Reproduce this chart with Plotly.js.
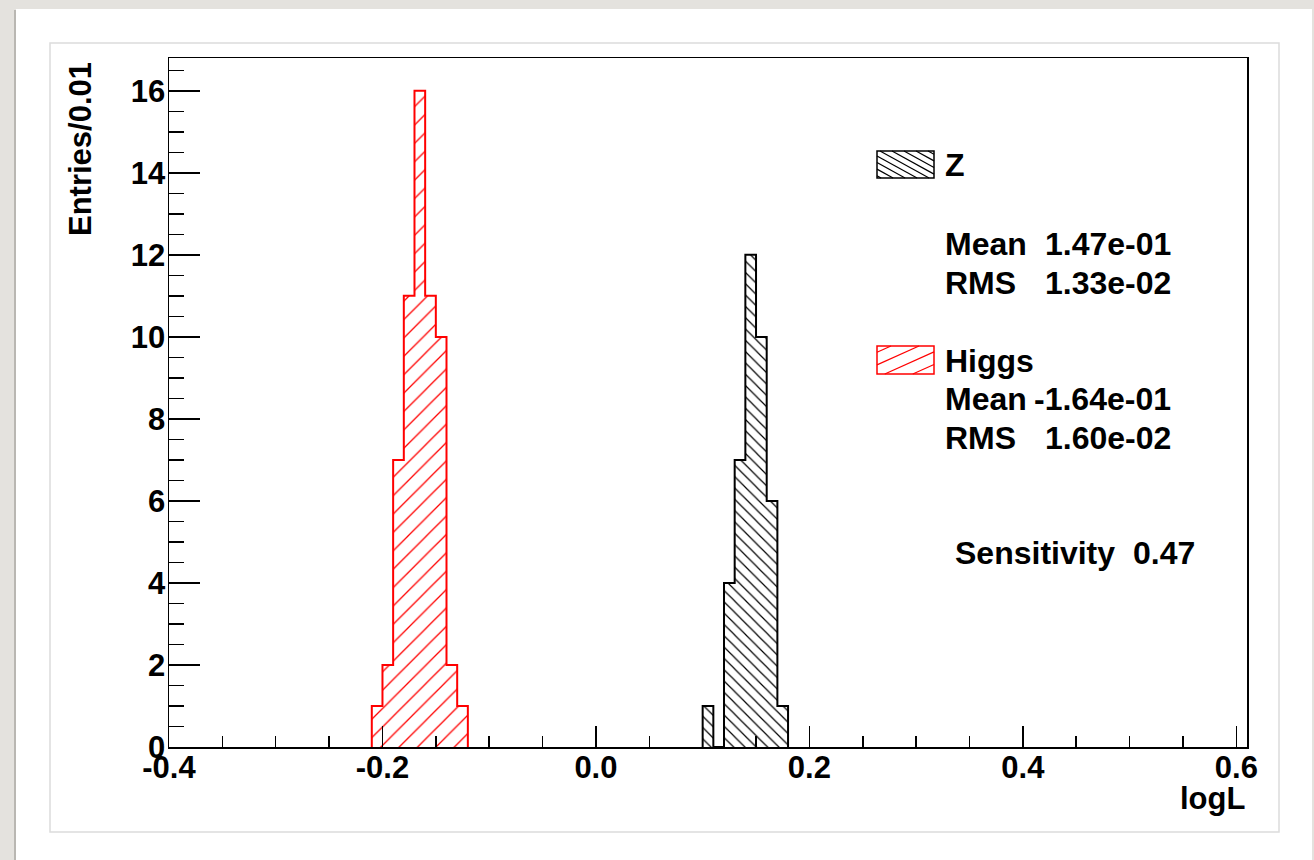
<!DOCTYPE html>
<html>
<head>
<meta charset="utf-8">
<script src="https://cdn.plot.ly/plotly-3.0.1.min.js"></script>
<style>
html, body { margin: 0; padding: 0; background: #e4e2de; }
#chart { width: 1314px; height: 860px; }
</style>
</head>
<body>
<div id="chart"></div>
<script>
// ---------------- data ----------------
const zEdges = [0.10, 0.11, 0.12, 0.13, 0.14, 0.15, 0.16, 0.17, 0.18];
const zCounts = [1, 0, 4, 7, 12, 10, 6, 1];
const higgsEdges = [-0.21, -0.20, -0.19, -0.18, -0.17, -0.16, -0.15, -0.14, -0.13, -0.12];
const higgsCounts = [1, 2, 7, 11, 16, 11, 10, 2, 1];
const seriesNames = ['Z', 'Higgs'];
const statLabels = ['Mean', 'RMS'];
const zStats = ['1.47e-01', '1.33e-02'];
const higgsStats = ['-1.64e-01', '1.60e-02'];
const sensitivityLabel = 'Sensitivity';
const sensitivityValue = '0.47';
const xTickVals = [-0.4, -0.2, 0.0, 0.2, 0.4, 0.6];
const xTickText = ['-0.4', '-0.2', '0.0', '0.2', '0.4', '0.6'];
const yTickVals = [0, 2, 4, 6, 8, 10, 12, 14, 16];
const yTickText = ['0', '2', '4', '6', '8', '10', '12', '14', '16'];
const xTitle = 'logL';
const yTitle = 'Entries/0.01';

// ---------------- layout geometry ----------------
const W = 1314, H = 860;
const M = { l: 169, r: 67, t: 58, b: 113 };
const PW = W - M.l - M.r, PH = H - M.t - M.b;
const px2x = p => (p - M.l) / PW;
const py2y = p => (H - M.b - p) / PH;

const FONT = 'Liberation Sans, Arial, Helvetica, sans-serif';

function centers(edges) { return edges.slice(0, -1).map((e, i) => (e + edges[i + 1]) / 2); }
function widths(edges) { return edges.slice(0, -1).map((e, i) => edges[i + 1] - e); }
function stepX(edges) { return [edges[0]].concat(edges); }
function stepY(counts) { return [0].concat(counts).concat([0]); }

function barTrace(edges, counts, name, color, shape, size, solidity) {
  return {
    type: 'bar', name: name, x: centers(edges), y: counts, width: widths(edges),
    marker: {
      color: 'white',
      line: { width: 0 },
      pattern: { shape: shape, fgcolor: color, bgcolor: 'white', fgopacity: 1, size: size, solidity: solidity, fillmode: 'replace' }
    },
    showlegend: false, hoverinfo: 'skip'
  };
}
function outlineTrace(edges, counts, color) {
  return {
    type: 'scatter', mode: 'lines', x: stepX(edges), y: stepY(counts),
    line: { shape: 'hv', color: color, width: 2 },
    showlegend: false, hoverinfo: 'skip', cliponaxis: true
  };
}

const data = [
  barTrace(higgsEdges, higgsCounts, seriesNames[1], '#ff0000', '/', 13, 0.1),
  barTrace(zEdges, zCounts, seriesNames[0], '#000000', '\\', 8, 0.15),
  outlineTrace(higgsEdges, higgsCounts, '#ff0000'),
  outlineTrace(zEdges, zCounts, '#000000')
];

// ---------------- decoration shapes ----------------
const shapes = [];
shapes.push({ type: 'rect', xref: 'paper', yref: 'paper', layer: 'below',
  x0: px2x(16), x1: px2x(1312), y0: py2y(862), y1: py2y(9),
  fillcolor: 'white', line: { width: 0 } });
shapes.push({ type: 'line', xref: 'paper', yref: 'paper', layer: 'below',
  x0: px2x(15), x1: px2x(15), y0: py2y(862), y1: py2y(10),
  line: { color: '#b9b7b2', width: 2 } });
shapes.push({ type: 'rect', xref: 'paper', yref: 'paper', layer: 'below',
  x0: px2x(50), x1: px2x(1279), y0: py2y(832), y1: py2y(43),
  fillcolor: 'white', line: { color: '#dcdcdc', width: 1.5 } });

function hatchBox(x0, y0, x1, y1, color, slope, hspace) {
  shapes.push({ type: 'rect', xref: 'paper', yref: 'paper', layer: 'above',
    x0: px2x(x0), x1: px2x(x1), y0: py2y(y1), y1: py2y(y0),
    fillcolor: 'white', line: { color: color, width: 1.5 } });
  const corners = [[x0, y0], [x1, y0], [x0, y1], [x1, y1]].map(([x, y]) => y - slope * x);
  const cmin = Math.min(...corners), cmax = Math.max(...corners);
  const vstep = hspace * Math.abs(slope);
  for (let c = cmin + vstep / 2; c < cmax; c += vstep) {
    let a = (y0 - c) / slope, b = (y1 - c) / slope;
    let lo = Math.max(x0, Math.min(a, b)), hi = Math.min(x1, Math.max(a, b));
    if (hi - lo < 1) continue;
    shapes.push({ type: 'line', xref: 'paper', yref: 'paper', layer: 'above',
      x0: px2x(lo), x1: px2x(hi), y0: py2y(c + slope * lo), y1: py2y(c + slope * hi),
      line: { color: color, width: 1.2 } });
  }
}
hatchBox(877, 151, 934, 178, '#000000', 0.55, 12);
hatchBox(877, 346, 934, 374, '#ff0000', -0.45, 28);

// ---------------- annotations ----------------
function txt(text, x, y, xanchor, size, extra) {
  return Object.assign({ text: text, xref: 'paper', yref: 'paper', x: px2x(x), y: py2y(y),
    xanchor: xanchor, yanchor: 'middle', showarrow: false,
    font: { family: FONT, size: size, color: 'black', weight: 700 } }, extra || {});
}
const LS = 32;
const annotations = [
  txt(seriesNames[0], 943, 165, 'left', LS),
  txt(statLabels[0], 943, 244, 'left', LS),
  txt(zStats[0], 1173, 244, 'right', LS),
  txt(statLabels[1], 943, 283, 'left', LS),
  txt(zStats[1], 1173, 283, 'right', LS),
  txt(seriesNames[1], 943, 361, 'left', LS),
  txt(statLabels[0], 943, 399, 'left', LS),
  txt(higgsStats[0], 1173, 399, 'right', LS),
  txt(statLabels[1], 943, 438, 'left', LS),
  txt(higgsStats[1], 1173, 438, 'right', LS),
  txt(sensitivityLabel, 953, 553, 'left', LS),
  txt(sensitivityValue, 1197, 553, 'right', LS),
  txt(xTitle, 1247, 779, 'right', 31, { yanchor: 'top' }),
  txt(yTitle, 80, 60, 'center', 31, { textangle: -90, yanchor: 'top' })
];

const axisCommon = {
  showgrid: false, zeroline: false, showline: true, linecolor: 'black', linewidth: 1.5,
  mirror: true, ticks: 'inside', tickcolor: 'black', tickwidth: 1.5,
  layer: 'above traces', tickmode: 'array',
  tickfont: { family: FONT, size: 31, color: 'black', weight: 700 }
};

const layout = {
  width: W, height: H,
  margin: M,
  paper_bgcolor: '#e4e2de',
  plot_bgcolor: 'rgba(0,0,0,0)',
  barmode: 'overlay', bargap: 0,
  showlegend: false,
  xaxis: Object.assign({}, axisCommon, {
    range: [-0.4, 0.61], tickvals: xTickVals, ticktext: xTickText, ticklen: 21,
    ticklabelstandoff: -8,
    minor: { tickmode: 'linear', tick0: -0.4, dtick: 0.05, ticks: 'inside', ticklen: 11, tickwidth: 1.5, tickcolor: 'black', showgrid: false }
  }),
  yaxis: Object.assign({}, axisCommon, {
    range: [0, 16.8], tickvals: yTickVals, ticktext: yTickText, ticklen: 31,
    ticklabelstandoff: -4,
    minor: { tickmode: 'linear', tick0: 0, dtick: 0.5, ticks: 'inside', ticklen: 15, tickwidth: 1.5, tickcolor: 'black', showgrid: false }
  }),
  shapes: shapes,
  annotations: annotations
};

Plotly.newPlot('chart', data, layout, { displayModeBar: false, staticPlot: true });
</script>
</body>
</html>
